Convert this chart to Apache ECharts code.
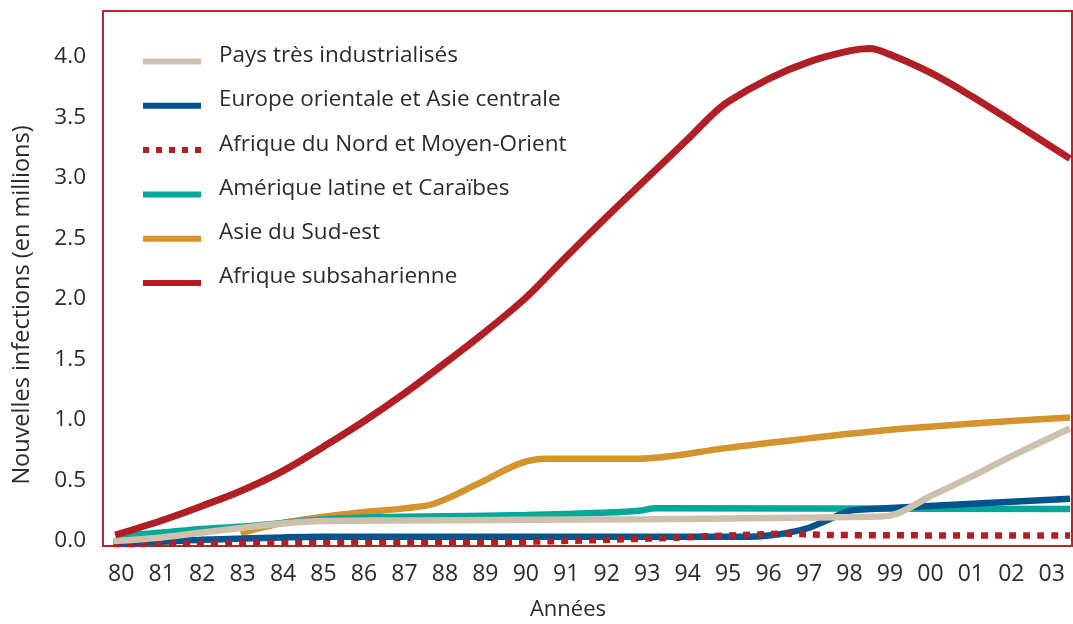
<!DOCTYPE html>
<html>
<head>
<meta charset="utf-8">
<script src="https://cdn.jsdelivr.net/npm/echarts@6/dist/echarts.min.js"></script>
<style>
html,body{margin:0;padding:0;background:#fff;}
#c{width:1073px;height:624px;}
</style>
</head>
<body>
<div id="c"></div>
<script>
// ---- data ----
const years = [1980,1981,1982,1983,1984,1985,1986,1987,1988,1989,1990,1991,1992,1993,1994,1995,1996,1997,1998,1999,2000,2001,2002,2003];
const yearLabels = ['80','81','82','83','84','85','86','87','88','89','90','91','92','93','94','95','96','97','98','99','00','01','02','03'];
const yTicks = [0,0.5,1,1.5,2,2.5,3,3.5,4];

const seriesNames = ['Pays très industrialisés','Europe orientale et Asie centrale','Afrique du Nord et Moyen-Orient','Amérique latine et Caraïbes','Asie du Sud-est','Afrique subsaharienne'];

const industrialises = [[1979.8,0.0],[1981,0.03],[1982,0.07],[1983,0.11],[1984,0.145],[1985,0.165],[1987,0.17],[1990,0.175],[1993,0.18],[1996,0.19],[1998.5,0.2],[1999,0.21],[2000,0.37],[2001,0.53],[2002,0.7],[2003.45,0.93]];
const europeEst = [[1979.8,-0.015],[1981,-0.005],[1982,0.01],[1983,0.02],[1984,0.03],[1985,0.035],[1990,0.035],[1995.5,0.035],[1996,0.045],[1996.5,0.07],[1997,0.11],[1997.5,0.18],[1998,0.25],[1998.3,0.26],[2003.45,0.35]];
const afriqueNord = [[1979.8,-0.025],[1985,-0.015],[1990,-0.005],[1993,0.02],[1995,0.045],[1996.5,0.06],[1997.5,0.05],[2003.45,0.045]];
const ameriqueLatine = [[1979.9,0.04],[1981,0.07],[1982,0.10],[1983,0.12],[1984,0.15],[1985,0.18],[1986,0.195],[1987,0.2],[1988,0.205],[1990,0.215],[1992,0.235],[1992.8,0.25],[1993.2,0.27],[2003.45,0.265]];
const asieSudEst = [[1982.95,0.065],[1984,0.15],[1985,0.2],[1986,0.24],[1987,0.27],[1987.75,0.31],[1988.8,0.47],[1989.85,0.64],[1990.5,0.68],[1992.75,0.68],[1995,0.77],[1998.7,0.91],[2003.45,1.02]];
const subsaharienne = [[1979.85,0.05],[1981,0.17],[1982,0.29],[1983,0.42],[1984,0.58],[1985,0.78],[1986,0.99],[1987,1.22],[1988,1.47],[1989,1.73],[1990,2.01],[1991,2.35],[1992,2.68],[1993,3.0],[1994,3.32],[1994.6,3.52],[1995,3.63],[1996,3.82],[1997,3.96],[1998,4.05],[1998.5,4.07],[1999,4.02],[2000,3.87],[2001,3.68],[2002,3.47],[2003.45,3.16]];

const colors = ['#cdc1ae','#00558f','#b11f24','#00a99a','#d4932c','#b11f24'];
const dataSets = [industrialises, europeEst, afriqueNord, ameriqueLatine, asieSudEst, subsaharienne];
const zOrder = [5,3,4,2,1,6];

const FONT = 'Open Sans';
const TXT = '#2b2b2b';

const SOLID_ICON = 'path://M0,-12L0,-12M0,0L58,0L58,6L0,6Z';
const DOT_ICON = 'path://M0,-12L0,-12M0,0L6,0L6,6L0,6ZM13,0L19,0L19,6L13,6ZM26,0L32,0L32,6L26,6ZM39,0L45,0L45,6L39,6ZM52,0L58,0L58,6L52,6Z';

const chart = echarts.init(document.getElementById('c'), null, {renderer:'canvas'});
const series = seriesNames.map((n,i)=>({
  name:n, type:'line', data:dataSets[i], showSymbol:false, symbol:'none',
  smooth:0.35, z:zOrder[i], animation:false,
  lineStyle:{color:colors[i], width: i===5?7:6.5, type: i===2?[7,7]:'solid', cap:'butt'},
  itemStyle:{color:colors[i]}
}));

chart.setOption({
  animation:false,
  backgroundColor:'#fff',
  grid:{left:103, top:11, right:1, bottom:78, show:true, borderColor:'#b8242b', borderWidth:2, backgroundColor:'transparent', outerBoundsMode:'none', containLabel:false},
  legend:{
    orient:'vertical', left:143, top:44, padding:0,
    itemWidth:58, itemHeight:18, itemGap:21.3,
    data:seriesNames.map((n,i)=>({name:n, icon: i===2?DOT_ICON:SOLID_ICON})),
    textStyle:{fontFamily:FONT, fontSize:22.5, color:TXT, padding:[0,0,0,13]},
    selectedMode:false
  },
  xAxis:{
    type:'value', min:1979.55, max:2003.5,
    axisLine:{show:false}, axisTick:{show:false}, splitLine:{show:false},
    axisLabel:{customValues:years, formatter:(v)=>yearLabels[years.indexOf(Math.round(v))] || '', fontFamily:FONT, fontSize:23, color:TXT, margin:17}
  },
  yAxis:{
    type:'value', min:-0.041, max:4.38,
    axisLine:{show:false}, axisTick:{show:false}, splitLine:{show:false},
    axisLabel:{customValues:yTicks, formatter:(v)=>v.toFixed(1), fontFamily:FONT, fontSize:22.5, color:TXT, margin:17}
  },
  graphic:[
    {type:'text', x:568, y:610, style:{text:'Années', fontFamily:FONT, fontSize:22, fill:TXT, align:'center', verticalAlign:'middle'}},
    {type:'text', x:22, y:305, rotation:Math.PI/2, style:{text:'Nouvelles infections (en millions)', fontFamily:FONT, fontSize:23.5, fill:TXT, align:'center', verticalAlign:'middle'}}
  ],
  series:series
});
</script>
</body>
</html>
